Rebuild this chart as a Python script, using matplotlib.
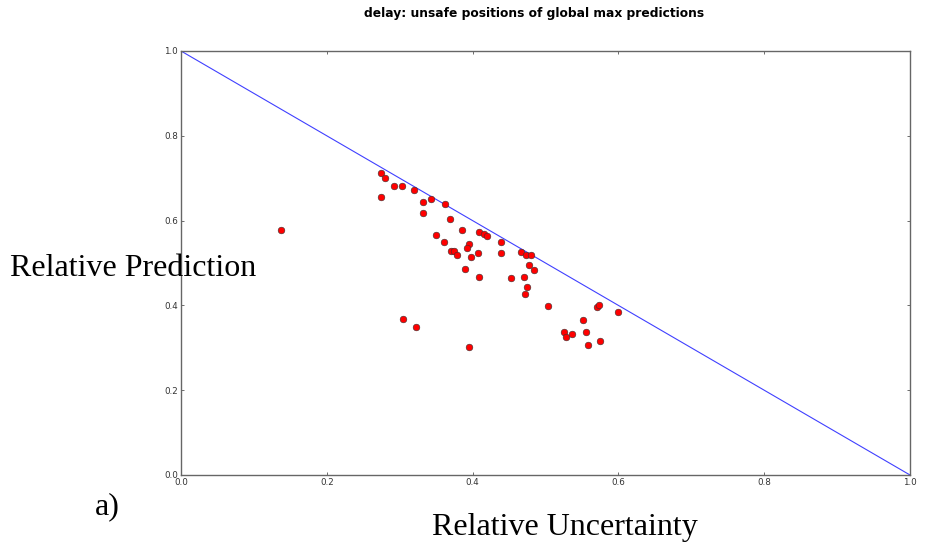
import matplotlib
matplotlib.use("Agg")
import matplotlib.pyplot as plt

# relative uncertainty / relative prediction of each unsafe global max
unc = [0.137, 0.275, 0.280, 0.292, 0.303, 0.275, 0.319, 0.332, 0.343, 0.362,
       0.332, 0.369, 0.350, 0.361, 0.371, 0.374, 0.378, 0.385, 0.409, 0.415,
       0.420, 0.439, 0.395, 0.393, 0.408, 0.439, 0.398, 0.466, 0.473, 0.480,
       0.478, 0.484, 0.390, 0.409, 0.453, 0.470, 0.474, 0.472, 0.503, 0.305,
       0.322, 0.570, 0.573, 0.600, 0.551, 0.526, 0.528, 0.537, 0.556, 0.558,
       0.575, 0.395]
pred = [0.578, 0.712, 0.701, 0.682, 0.682, 0.655, 0.671, 0.645, 0.650, 0.638,
        0.617, 0.603, 0.565, 0.549, 0.528, 0.528, 0.519, 0.579, 0.573, 0.569,
        0.564, 0.549, 0.544, 0.535, 0.524, 0.524, 0.514, 0.527, 0.520, 0.520,
        0.496, 0.484, 0.487, 0.466, 0.464, 0.468, 0.443, 0.426, 0.398, 0.368,
        0.350, 0.397, 0.400, 0.385, 0.366, 0.338, 0.325, 0.332, 0.338, 0.306,
        0.315, 0.301]
diag_x = [0.0, 1.0]
diag_y = [1.0, 0.0]
ticks = [0.0, 0.2, 0.4, 0.6, 0.8, 1.0]

fig = plt.figure(figsize=(9.25, 5.46), dpi=100)
ax = fig.add_axes([181/925, 1 - 475/546, 729/925, 424/546])

ax.plot(diag_x, diag_y, color="blue", lw=0.8, alpha=0.75)
ax.plot(unc, pred, "o", color="red", markersize=4.8,
        markeredgecolor="#333333", markeredgewidth=0.4)

ax.set_xlim(0, 1)
ax.set_ylim(0, 1)
ax.set_xticks(ticks)
ax.set_yticks(ticks)
ax.set_xticklabels([f"{t:.1f}" for t in ticks])
ax.set_yticklabels([f"{t:.1f}" for t in ticks])
ax.tick_params(direction="in", top=True, right=True, labelsize=6.3,
               length=2.5, width=0.5, colors="#333333", pad=2)
for s in ax.spines.values():
    s.set_color("#666666")
    s.set_linewidth(1.0)

fig.text(534/925, 1 - 14/546, "delay: unsafe positions of global max predictions",
         ha="center", va="center", fontsize=8.8, fontweight="bold")
serif = ["Liberation Serif", "DejaVu Serif"]
fig.text(10/925, 1 - 268/546, "Relative Prediction", ha="left", va="center",
         fontsize=23, family=serif)
fig.text(565/925, 1 - 528/546, "Relative Uncertainty", ha="center", va="center",
         fontsize=23, family=serif)
fig.text(95/925, 1 - 507/546, "a)", ha="left", va="center",
         fontsize=23, family=serif)

fig.savefig("out.png", dpi=100)
